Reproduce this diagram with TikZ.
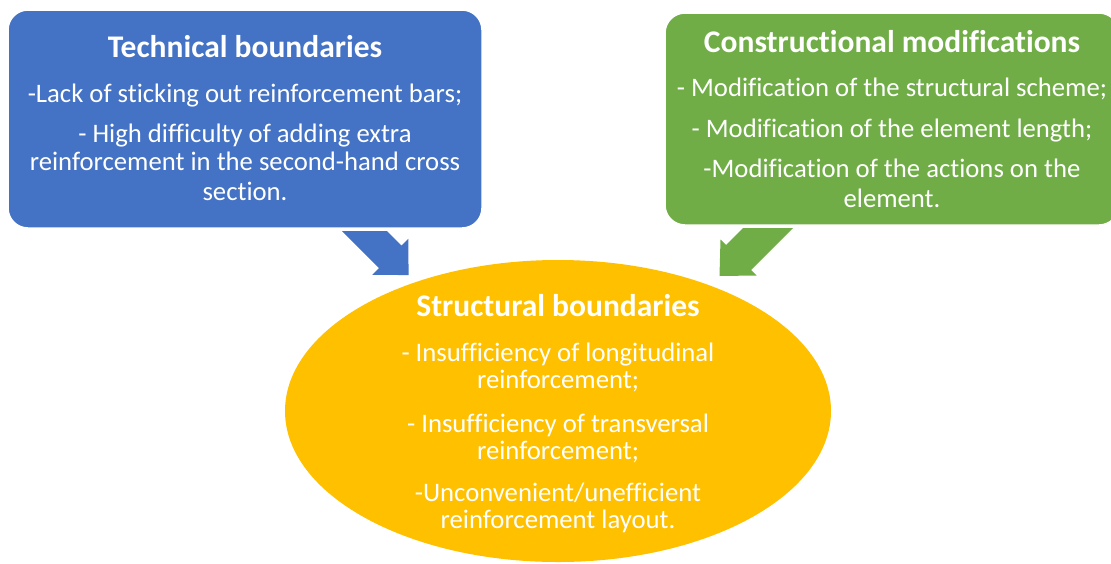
\documentclass[tikz,border=0pt]{standalone}
\usepackage{fontspec}
\setmainfont{Carlito}[Ligatures=NoCommon]
\definecolor{cblue}{HTML}{4472C4}
\definecolor{cgreen}{HTML}{70AD47}
\definecolor{cgold}{HTML}{FFC000}
\begin{document}
\begin{tikzpicture}[x=1pt,y=-1pt,
  boxshape/.style={rounded corners=20pt, draw=white, line width=1.5pt, inner sep=0pt},
  ttl/.style={anchor=base, inner sep=0pt, text=white, font=\fontsize{31.5}{36}\selectfont\bfseries},
  txt/.style={anchor=base, inner sep=0pt, text=white, font=\fontsize{26.7}{30}\selectfont},
  blockarrow/.style={draw=none}]
\useasboundingbox (0,0) rectangle (1111,563);
\clip (0,0) rectangle (1111,563);
% block arrows (drawn first, behind shapes)
\coordinate (ba1) at (342,231);
\coordinate (ba2) at (379,268);
\coordinate (ba3) at (372.25,274.75);
\coordinate (batip) at (408.6,275.1);
\coordinate (ba5) at (408.25,238.75);
\coordinate (ba6) at (401.5,245.5);
\coordinate (ba7) at (387,231);
\fill[cblue, blockarrow] (ba1) -- (ba2) -- (ba3) -- (batip) -- (ba5) -- (ba6) -- (ba7) -- cycle;
\coordinate (ga1) at (743,228);
\coordinate (ga2) at (726,245);
\coordinate (ga3) at (720.5,239.5);
\coordinate (gatip) at (719.5,276);
\coordinate (ga5) at (756.5,275.5);
\coordinate (ga6) at (751,270);
\coordinate (ga7) at (793,228);
\fill[cgreen, blockarrow] (ga1) -- (ga2) -- (ga3) -- (gatip) -- (ga5) -- (ga6) -- (ga7) -- cycle;
% shapes
\node[boxshape, fill=cblue, minimum width=474pt, minimum height=218pt] (tech) at (245,119) {};
\node[boxshape, fill=cgreen, minimum width=454pt, minimum height=212pt] (cons) at (892,119) {};
\fill[cgold] (558,411) ellipse [x radius=273, y radius=151];
\coordinate (struct) at (558,411);
% texts: technical boundaries
\node[ttl] (t0) at (245,57) {Technical boundaries};
\node[txt] (t1) at (245,102) {-Lack of sticking out reinforcement bars;};
\node[txt] (t2) at (245,142) {- High difficulty of adding extra};
\node[txt] (t3) at (245,170.5) {reinforcement in the second-hand cross};
\node[txt] (t4) at (245,200.5) {section.};
% constructional modifications
\node[ttl] (c0) at (892,52) {Constructional modifications};
\node[txt] (c1) at (892,96.5) {- Modification of the structural scheme;};
\node[txt] (c2) at (892,137) {- Modification of the element length;};
\node[txt] (c3) at (892,177) {-Modification of the actions on the};
\node[txt] (c4) at (892,207) {element.};
% structural boundaries
\node[ttl] (s0) at (558,316) {Structural boundaries};
\node[txt] (s1) at (558,361) {- Insufficiency of longitudinal};
\node[txt] (s2) at (558,388) {reinforcement;};
\node[txt] (s3) at (558,432) {- Insufficiency of transversal};
\node[txt] (s4) at (558,459) {reinforcement;};
\node[txt] (s5) at (558,501) {-Unconvenient/unefficient};
\node[txt] (s6) at (558,528) {reinforcement layout.};
\end{tikzpicture}
\end{document}
